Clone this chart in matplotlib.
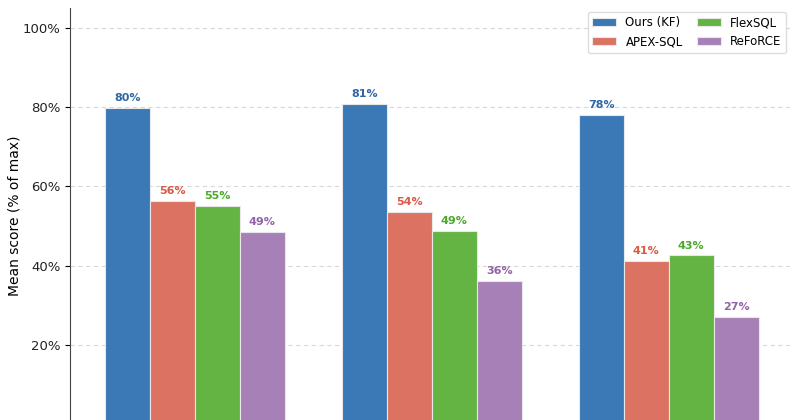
import matplotlib
matplotlib.use("Agg")
import matplotlib.pyplot as plt
import numpy as np

# groups (their names are cropped out of the reference picture)
n_groups = 3
methods = ["Ours (KF)", "APEX-SQL", "FlexSQL", "ReFoRCE"]
ours = [79.8, 80.8, 78.1]
apex = [56.3, 53.6, 41.2]
flex = [55.0, 48.8, 42.6]
reforce = [48.6, 36.1, 27.1]

bar_colors = ["#3a78b6", "#dc7261", "#63b443", "#a680b6"]
text_colors = ["#2f67a6", "#d95a47", "#4ba82b", "#9263a6"]

fig = plt.figure(figsize=(8, 4.2), dpi=100)
ax = fig.add_axes([0.088, -0.0095, 0.899, 0.99])

x = np.arange(n_groups)
w = 0.19
series = [ours, apex, flex, reforce]
for i, (vals, name) in enumerate(zip(series, methods)):
    pos = x + (i - 1.5) * w
    bars = ax.bar(pos, vals, w, color=bar_colors[i], edgecolor="#e8e8e8",
                  linewidth=0.8, label=name, zorder=3)
    for b, v in zip(bars, vals):
        ax.text(b.get_x() + b.get_width() / 2, v + 1.2, f"{v:.0f}%",
                ha="center", va="bottom", fontsize=8, fontweight="bold",
                color=text_colors[i], zorder=4)

ax.set_xlim(-0.525, 2.51)
ax.set_ylim(0, 105)
ax.set_yticks([0, 20, 40, 60, 80, 100])
ax.set_yticklabels([f"{t}%" for t in [0, 20, 40, 60, 80, 100]])
ax.set_xticks([])
ax.set_ylabel("Mean score (% of max)", fontsize=10, labelpad=1)
ax.tick_params(axis="y", labelsize=9.5, labelcolor="#222222")
ax.yaxis.grid(True, linestyle=(0, (4, 3)), color="#d8d8d8", linewidth=0.8)
ax.set_axisbelow(True)
for s in ["top", "right", "bottom"]:
    ax.spines[s].set_visible(False)
ax.spines["left"].set_color("#444444")
ax.legend(loc="upper right", ncol=2, fontsize=8.5, framealpha=1.0,
          edgecolor="#dddddd", handlelength=2.0, columnspacing=1.2,
          borderaxespad=0.3)

fig.savefig("out.png", dpi=100)
